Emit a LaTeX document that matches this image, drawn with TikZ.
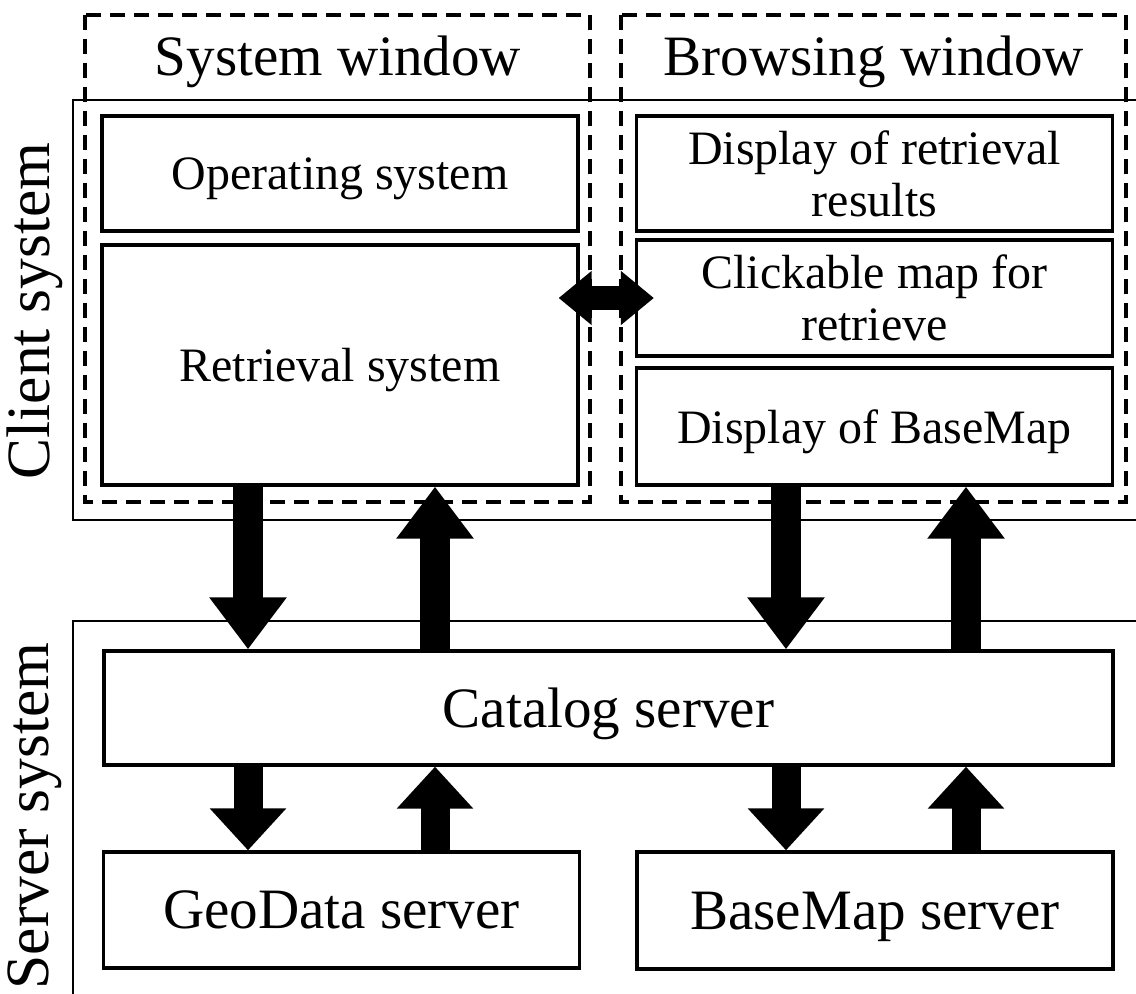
\documentclass[tikz,border=0pt]{standalone}
\usepackage{fontspec}
\setmainfont{Liberation Serif}
\usetikzlibrary{arrows.meta,calc}

\begin{document}
\begin{tikzpicture}[x=0.02cm, y=-0.02cm, line join=miter,
	sysbox/.style={draw, line width=1.9pt, rectangle, minimum width=9.52cm, align=center, inner sep=0pt, text depth=0pt, font=\fontsize{27.3}{29.5}\selectfont},
	bigbox/.style={sysbox, font=\fontsize{32.5}{36}\selectfont},
	winbox/.style={line width=2.1pt, dash pattern=on 0.3cm off 0.18cm},
	groupbox/.style={line width=1.5pt},
	sidelabel/.style={rotate=90, font=\fontsize{35}{40}\selectfont},
	fatarrow/.style={line width=0.6cm, -{Triangle[length=1.04cm, width=1.48cm]}},
	shortarrow/.style={line width=0.58cm, -{Triangle[length=0.84cm, width=1.48cm]}},
	dblarrow/.style={line width=0.48cm, {Triangle[length=0.66cm, width=1.04cm]}-{Triangle[length=0.66cm, width=1.04cm]}}
	]
	
	\useasboundingbox (0,0) rectangle (1136,994);
	
	% Client and server frames (open to the right)
	\draw[groupbox] (1136,100) -- (73,100) -- (73,520) -- (1136,520);
	\draw[groupbox] (1136,621) -- (73,621) -- (73,994);
	
	\node[sidelabel] (client) at (35,311) {Client system};
	\node[sidelabel] (server) at (35,816) {Server system};
	
	% Dashed windows
	\draw[winbox] (85,15) rectangle (590,502);
	\draw[winbox] (621,15) rectangle (1126,502);
	\node[font=\fontsize{32.5}{36}\selectfont] (syswin) at (338,62) {System window};
	\node[font=\fontsize{32.5}{36}\selectfont] (browwin) at (874,62) {Browsing window};
	
	% Boxes in the system window
	\node[sysbox, minimum height=2.3cm] (os) at (340,173.5) {Operating system};
	\node[sysbox, minimum height=4.8cm] (retr) at (340,365) {Retrieval system};
	
	% Boxes in the browsing window
	\node[sysbox, minimum height=2.3cm] (res) at (874.5,173.5) {Display of retrieval\\results};
	\node[sysbox, minimum height=2.32cm] (click) at (874.5,298) {Clickable map for\\retrieve};
	\node[sysbox, minimum height=2.34cm] (bmdisp) at (874.5,426.5) {Display of BaseMap};
	
	% Servers
	\node[bigbox, minimum width=20.18cm, minimum height=2.28cm] (cat) at (608.5,708) {Catalog server};
	\node[bigbox, minimum height=2.32cm] (geo) at (341.5,910) {GeoData server};
	\node[bigbox, minimum height=2.34cm] (bms) at (875,910.5) {BaseMap server};
	
	% Columns of the vertical arrows
	\coordinate (c1) at (248,0);
	\coordinate (c2) at (435,0);
	\coordinate (c3) at (786,0);
	\coordinate (c4) at (966,0);
	
	% Client <-> catalog
	\draw[fatarrow] (retr.south -| c1) -- (cat.north -| c1);
	\draw[fatarrow] (cat.north -| c2) -- (retr.south -| c2);
	\draw[fatarrow] (bmdisp.south -| c3) -- (cat.north -| c3);
	\draw[fatarrow] (cat.north -| c4) -- (bmdisp.south -| c4);
	
	% Catalog <-> data servers
	\draw[shortarrow] (cat.south -| c1) -- (geo.north -| c1);
	\draw[shortarrow] (geo.north -| c2) -- (cat.south -| c2);
	\draw[shortarrow] (cat.south -| c3) -- (bms.north -| c3);
	\draw[shortarrow] (bms.north -| c4) -- (cat.south -| c4);
	
	% Link between the two windows
	\draw[dblarrow] ($(click.west -| retr.east)+(-21,0)$) -- ($(click.west)+(19,0)$);
	
\end{tikzpicture}
\end{document}
